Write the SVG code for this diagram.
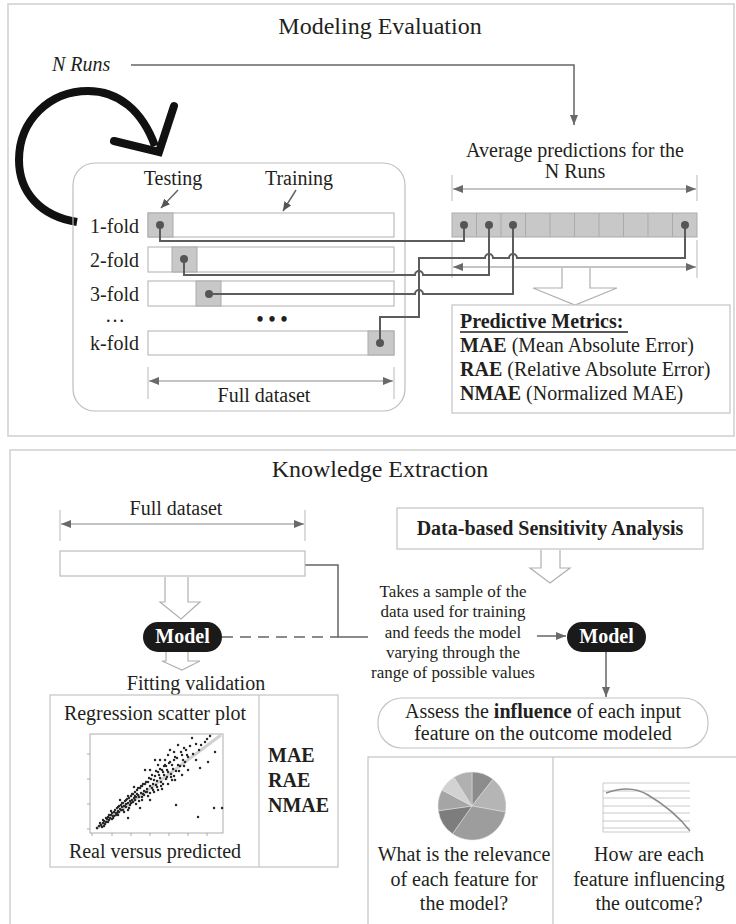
<svg xmlns="http://www.w3.org/2000/svg" width="736" height="924" viewBox="0 0 736 924">
<defs>
<marker id="ah" markerWidth="10" markerHeight="8" refX="10" refY="4" orient="auto-start-reverse" markerUnits="userSpaceOnUse"><path d="M0,0 L10,4 L0,8 Z" fill="#6a6a6a"/></marker>
<marker id="as" markerWidth="9" markerHeight="8" refX="9" refY="4" orient="auto" markerUnits="userSpaceOnUse"><path d="M0,0 L9,4 L0,8 Z" fill="#555"/></marker>
</defs>
<style>
text{font-family:"Liberation Serif","Times New Roman",serif;fill:#231f20;font-size:20px}
.t{font-size:24px}
.s{font-size:17px}
.b{font-weight:bold}
.m{text-anchor:middle}
.e{text-anchor:end}
.panel{fill:#fff;stroke:#cfcfcf;stroke-width:1.5}
.bar{fill:#fff;stroke:#bdbdbd;stroke-width:1.2}
.cell{fill:#c8c8c8;stroke:#ababab;stroke-width:1}
.dot{fill:#555}
.con{fill:none;stroke:#5c5c5c;stroke-width:2}
.ln{fill:none;stroke:#666;stroke-width:1.5}
.dim{fill:none;stroke:#8a8a8a;stroke-width:1.2}
.tick{stroke:#c4c4c4;stroke-width:1.2}
.hol{fill:#fff;stroke:#b0b0b0;stroke-width:1.2}
.pill{fill:#1a1a1a}
.pt{fill:#fff;font-weight:bold}
.box{fill:#fff;stroke:#c4c4c4;stroke-width:1.2}
.grid{stroke:#bdbdbd;stroke-width:0.8}
</style>
<rect width="736" height="924" fill="#fff"/>

<!-- panels -->
<g id="panel-top">
<rect class="panel" x="8" y="4" width="726" height="432"/>
<text class="t m" x="380" y="34">Modeling Evaluation</text>
</g>
<g id="panel-bottom">
<rect class="panel" x="10" y="450" width="740" height="500"/>
<text class="t m" x="380" y="477">Knowledge Extraction</text>
</g>

<!-- N runs -->
<g id="nruns"><text x="52" y="71" font-style="italic">N Runs</text></g>

<!-- loop arrow -->
<g id="loop" fill="none" stroke="#111" stroke-width="8">
<path d="M77,222 C40,216 19,192 19,160 C19,120 50,91 88,91 C118,91 142,110 155,146"/>
<polyline points="114,141 159,152 174,106" stroke-linejoin="miter" stroke-linecap="round"/>
</g>

<!-- k-fold container -->
<g id="folds">
<rect x="73" y="163" width="332" height="248" rx="22" fill="none" stroke="#bdbdbd" stroke-width="1.2"/>
<text class="m" x="173" y="185">Testing</text>
<text class="m" x="299" y="185">Training</text>
<line class="ln" x1="178" y1="190" x2="161" y2="208" marker-end="url(#as)"/>
<line class="ln" x1="296" y1="190" x2="283" y2="211" marker-end="url(#as)"/>
<g id="fold1"><text class="e" x="139" y="233">1-fold</text><rect class="bar" x="148" y="213" width="246" height="24"/><rect class="cell" x="148" y="213" width="25" height="24"/></g>
<g id="fold2"><text class="e" x="139" y="267">2-fold</text><rect class="bar" x="148" y="247" width="246" height="25"/><rect class="cell" x="172" y="247" width="25" height="25"/></g>
<g id="fold3"><text class="e" x="139" y="301">3-fold</text><rect class="bar" x="148" y="281" width="246" height="25"/><rect class="cell" x="196" y="281" width="25" height="25"/></g>
<text class="m" x="115" y="322">…</text>
<text class="m b" x="272" y="326">• • •</text>
<g id="foldk"><text class="e" x="139" y="350">k-fold</text><rect class="bar" x="148" y="331" width="246" height="24"/><rect class="cell" x="368" y="331" width="26" height="24"/></g>
<line class="tick" x1="148" y1="367" x2="148" y2="399"/>
<line class="tick" x1="394" y1="367" x2="394" y2="399"/>
<line class="dim" x1="149" y1="381" x2="393" y2="381" marker-start="url(#ah)" marker-end="url(#ah)"/>
<text class="m" x="264" y="402">Full dataset</text>
</g>

<!-- predictions -->
<g id="predictions">
<text class="m" x="575" y="157">Average predictions for the</text>
<text class="m" x="575" y="178">N Runs</text>
<line class="tick" x1="452" y1="175" x2="452" y2="201"/>
<line class="tick" x1="697" y1="175" x2="697" y2="201"/>
<line class="tick" x1="452" y1="240" x2="452" y2="278"/>
<line class="tick" x1="697" y1="240" x2="697" y2="278"/>
<line class="dim" x1="453" y1="189" x2="696" y2="189" marker-start="url(#ah)" marker-end="url(#ah)"/>
<line class="dim" x1="453" y1="267" x2="696" y2="267" marker-start="url(#ah)" marker-end="url(#ah)"/>
<rect class="cell" x="452" y="213" width="245" height="24"/>
<path d="M476.5,213V237M501,213V237M525.5,213V237M550,213V237M574.5,213V237M599,213V237M623.5,213V237M648,213V237M672.5,213V237" stroke="#ababab" stroke-width="1"/>
</g>

<!-- connectors -->
<g id="connectors">
<path class="ln" d="M131,65 H574 V125" marker-end="url(#ah)"/>
<path class="con" d="M160,225 V241 H464 V225"/>
<path class="con" d="M184,259 V275 H415 a4,4 0 0 1 8,0 H489 V225"/>
<path class="con" d="M209,294 H415 a4,4 0 0 1 8,0 H513 V225"/>
<path class="con" d="M380,343 V317 H419 V258 H485 a4,4 0 0 1 8,0 H509 a4,4 0 0 1 8,0 H685 V225"/>
<path class="ln" d="M305,565 H338 V637 H368"/>
<line class="ln" x1="222" y1="637" x2="338" y2="637" stroke-dasharray="11,7"/>
<line class="ln" x1="537" y1="636" x2="566" y2="636" marker-end="url(#ah)"/>
<line class="ln" x1="606" y1="652" x2="606" y2="697" marker-end="url(#ah)"/>
<path class="hol" d="M562,268 V288 H533 L575,305 L617,288 H590 V268"/>
<path class="hol" d="M165,577 V602 H160 L181,619 L200,602 H188 V577"/>
<path class="hol" d="M166,652 V661 H162 L182,670 L200,661 H188 V652"/>
<path class="hol" d="M541,550 V568 H530 L550,583 L570,568 H560 V550"/>
</g>

<!-- dots -->
<g id="dots" class="dot">
<circle cx="160" cy="225" r="4"/><circle cx="184" cy="259" r="4"/><circle cx="209" cy="294" r="4"/><circle cx="380" cy="343" r="4"/>
<circle cx="464" cy="225" r="4"/><circle cx="489" cy="225" r="4"/><circle cx="513" cy="225" r="4"/><circle cx="685" cy="225" r="4"/>
</g>

<!-- predictive metrics -->
<g id="metrics">
<rect class="box" x="452" y="305" width="278" height="108"/>
<text class="b" x="460" y="328">Predictive Metrics:</text>
<line x1="460" y1="332" x2="628" y2="332" stroke="#231f20" stroke-width="1.3"/>
<text x="460" y="352"><tspan class="b">MAE</tspan> (Mean Absolute Error)</text>
<text x="460" y="376"><tspan class="b">RAE</tspan> (Relative Absolute Error)</text>
<text x="460" y="400"><tspan class="b">NMAE</tspan> (Normalized MAE)</text>
</g>

<!-- bottom: dataset -->
<g id="dataset">
<text class="m" x="176" y="515">Full dataset</text>
<line class="tick" x1="60" y1="510" x2="60" y2="541"/>
<line class="tick" x1="305" y1="510" x2="305" y2="541"/>
<line class="dim" x1="61" y1="524" x2="304" y2="524" marker-start="url(#ah)" marker-end="url(#ah)"/>
<rect class="bar" x="60" y="551" width="245" height="25"/>
</g>

<g id="model1"><rect class="pill" x="143" y="622" width="79" height="30" rx="15"/><text class="pt m" x="182.5" y="643">Model</text></g>
<g id="model2"><rect class="pill" x="567" y="622" width="79" height="30" rx="15"/><text class="pt m" x="606.5" y="643">Model</text></g>

<g id="sampling">
<text class="s m" x="453" y="597">Takes a sample of the</text>
<text class="s m" x="453" y="617">data used for training</text>
<text class="s m" x="453" y="638">and feeds the model</text>
<text class="s m" x="453" y="658">varying through the</text>
<text class="s m" x="453" y="678">range of possible values</text>
</g>

<g id="dsa"><rect class="box" x="397" y="508" width="306" height="41"/><text class="b m" x="550" y="535">Data-based Sensitivity Analysis</text></g>

<g id="assess">
<rect class="box" x="378" y="698" width="330" height="50" rx="24"/>
<text class="m" x="543" y="718">Assess the <tspan class="b">influence</tspan> of each input</text>
<text class="m" x="543" y="740">feature on the outcome modeled</text>
</g>

<!-- fitting validation -->
<g id="fitting">
<text class="m" x="196" y="690">Fitting validation</text>
<rect class="box" x="50" y="695" width="288" height="172"/>
<line x1="259" y1="695" x2="259" y2="867" stroke="#c4c4c4" stroke-width="1.2"/>
<text class="m" x="155" y="720">Regression scatter plot</text>
<text class="m" x="155" y="858">Real versus predicted</text>
<text class="b" x="268" y="762">MAE</text>
<text class="b" x="268" y="787">RAE</text>
<text class="b" x="268" y="812">NMAE</text>
<g id="scatter">
<rect x="90" y="734" width="133" height="99" fill="#fff" stroke="#999" stroke-width="0.8"/>
<path d="M87,754h3M87,779h3M87,804h3M87,829h3M92,833v3M112,833v3M131,833v3M150,833v3M169,833v3M188,833v3M207,833v3" stroke="#999" stroke-width="0.8"/>
<line x1="96" y1="829" x2="221" y2="735" stroke="#d0d0d0" stroke-width="3"/>
<path d="M97,828h.1M99,826h.1M101,825h.1M103,823h.1M104,821h.1M106,822h.1M107,819h.1M108,817h.1M110,818h.1M111,815h.1M112,813h.1M113,816h.1M114,812h.1M115,810h.1M116,813h.1M117,808h.1M118,811h.1M119,806h.1M120,809h.1M121,805h.1M122,807h.1M123,803h.1M124,806h.1M125,801h.1M126,804h.1M127,799h.1M128,803h.1M129,798h.1M130,801h.1M131,796h.1M132,800h.1M133,794h.1M134,798h.1M135,792h.1M136,797h.1M137,790h.1M138,795h.1M140,788h.1M141,793h.1M142,786h.1M144,791h.1M145,784h.1M147,789h.1M148,782h.1M150,786h.1M151,779h.1M153,784h.1M155,776h.1M157,781h.1M158,772h.1M160,778h.1M162,770h.1M164,775h.1M166,766h.1M168,772h.1M170,762h.1M173,769h.1M175,757h.1M178,765h.1M181,752h.1M183,760h.1M186,750h.1M188,757h.1M190,746h.1M193,754h.1M196,760h.1M199,750h.1M201,745h.1M205,742h.1M208,762h.1M140,808h.1M150,800h.1M128,810h.1M163,784h.1M172,780h.1M179,771h.1M165,765h.1M158,790h.1M188,770h.1M145,770h.1M155,760h.1M168,755h.1M200,768h.1M178,745h.1M207,739h.1M215,752h.1M214,808h.1M222,808h.1M198,817h.1M176,805h.1M128,818h.1M120,800h.1M134,787h.1M160,760h.1M170,750h.1M192,738h.1M102,827h.1M105,824h.1M109,820h.1M112,819h.1M116,815h.1M119,812h.1M123,810h.1M126,807h.1M131,803h.1M135,800h.1M139,797h.1M143,794h.1M146,792h.1M152,788h.1M156,785h.1M161,782h.1M167,777h.1M171,774h.1M174,776h.1M184,766h.1M196,744h.1M210,736h.1M100,823h.1M103,820h.1M106,818h.1M109,815h.1M111,811h.1M114,816h.1M117,813h.1M118,807h.1M121,810h.1M122,803h.1M125,806h.1M126,800h.1M128,796h.1M130,805h.1M132,794h.1M133,802h.1M135,796h.1M137,794h.1M138,788h.1M139,801h.1M141,786h.1M142,797h.1M143,784h.1M144,795h.1M146,782h.1M147,792h.1M149,778h.1M150,793h.1M152,775h.1M153,790h.1M154,780h.1M156,771h.1M157,787h.1M159,775h.1M160,769h.1M161,786h.1M163,772h.1M164,766h.1M166,779h.1M167,770h.1M169,763h.1M171,777h.1M172,765h.1M174,760h.1M176,771h.1M177,758h.1M180,766h.1M182,755h.1M185,762h.1M187,755h.1M104,826h.1M108,822h.1M113,818h.1M118,815h.1M124,812h.1M129,808h.1M136,804h.1M142,800h.1M148,796h.1M154,792h.1M162,789h.1M168,784h.1M175,780h.1M182,775h.1M165,760h.1M158,765h.1M150,770h.1M174,752h.1M184,748h.1" stroke="#2a2a2a" stroke-width="2.4" stroke-linecap="round"/>
</g>
</g>

<!-- questions table -->
<g id="questions">
<rect class="box" x="368" y="757" width="380" height="190"/>
<line x1="553" y1="757" x2="553" y2="924" stroke="#c4c4c4" stroke-width="1.2"/>
<g id="pie" stroke="#e0e0e0" stroke-width="0.5">
<path d="M472,806 L472,772 A34,34 0 0 1 492.93,779.21 Z" fill="#8c8c8c"/>
<path d="M472,806 L492.93,779.21 A34,34 0 0 1 505.48,811.9 Z" fill="#b5b5b5"/>
<path d="M472,806 L505.48,811.9 A34,34 0 0 1 452.5,833.85 Z" fill="#9d9d9d"/>
<path d="M472,806 L452.5,833.85 A34,34 0 0 1 438.33,810.73 Z" fill="#7d7d7d"/>
<path d="M472,806 L438.33,810.73 A34,34 0 0 1 441.98,790.04 Z" fill="#a5a5a5"/>
<path d="M472,806 L441.98,790.04 A34,34 0 0 1 453.98,777.17 Z" fill="#d2d2d2"/>
<path d="M472,806 L453.98,777.17 A34,34 0 0 1 472,772 Z" fill="#b0b0b0"/>
</g>
<g id="linechart">
<path class="grid" d="M603,783H690M603,791H690M603,798H690M603,806H690M603,813H690M603,821H690M603,828H690"/>
<path d="M603,783V832H690" fill="none" stroke="#bdbdbd" stroke-width="0.8"/>
<path d="M606,793 C620,788 635,787 648,795 C665,805 680,818 690,831" fill="none" stroke="#8a8a8a" stroke-width="1.5"/>
</g>
<text class="m" x="464" y="861">What is the relevance</text>
<text class="m" x="464" y="886">of each feature for</text>
<text class="m" x="464" y="910">the model?</text>
<text class="m" x="649" y="861">How are each</text>
<text class="m" x="649" y="886">feature influencing</text>
<text class="m" x="649" y="910">the outcome?</text>
</g>
</svg>
